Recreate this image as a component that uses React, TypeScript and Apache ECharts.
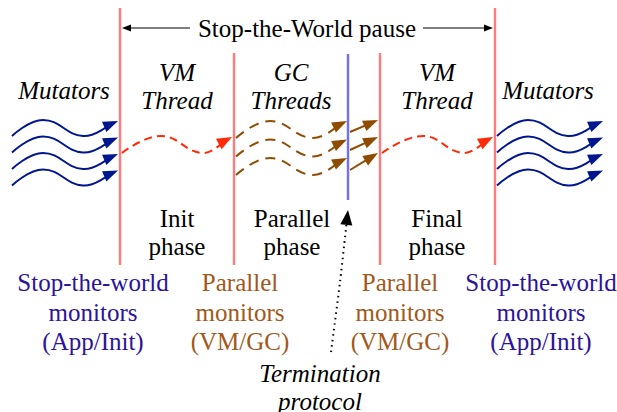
import React, { useEffect, useRef } from "react";
import * as echarts from "echarts";

// ---------- diagram data (diagram units = one pixel of the 617x412 view) ----------
const VIEW_W = 617;
const VIEW_H = 412;

// phase boundaries
const boundaryX = [120, 234, 380, 495];
const boundaryTop = [8, 53, 53, 8];
const boundaryBottom = [265, 265, 265, 265];
const terminationLine = [[348, 54], [348, 200]];

// wave template: start, crest, trough, arrow tip (relative to origin)
const mutatorWaveShape = [[0, 0], [31, -16], [71, 0], [106, -15]];
const mutatorLeftOrigins = [[12, 136], [12, 152.5], [12, 169], [12, 185.5]];
const mutatorRightOrigins = [[497, 136], [497, 152.5], [497, 169], [497, 185.5]];
const vmWaves = [
  [[122, 153], [161, 136], [202, 153], [232, 137]],
  [[382, 153], [423, 136], [463, 153], [493, 137]],
];
const gcWaveShape = [[0, 0], [34, -17], [76, 0], [111, -17]];
const gcOrigins = [[236, 138], [236, 156.5], [236, 175]];
const gcHandoffArrows = [
  [[350, 132], [378, 120]],
  [[350, 150], [378, 137]],
  [[350, 170], [378, 153]],
];
const pauseArrows = [
  [[190, 28], [122, 28]],
  [[423, 28], [493, 28]],
];
const terminationArrow = [[[331, 352], [340, 282], [348, 210]]];

// labels (centre of each label block)
const pauseTitle = ["Stop-the-World pause"];
const pauseTitlePos = [[307, 28]];
const threadLabels = ["Mutators", "VM\nThread", "GC\nThreads", "VM\nThread", "Mutators"];
const threadLabelPos = [[64, 90], [177, 86], [291, 86], [437, 86], [548, 90]];
const phaseLabels = ["Init\nphase", "Parallel\nphase", "Final\nphase"];
const phaseLabelPos = [[177, 232], [292, 232], [437, 232]];
const monitorLabels = [
  "Stop-the-world\nmonitors\n(App/Init)",
  "Parallel\nmonitors\n(VM/GC)",
  "Parallel\nmonitors\n(VM/GC)",
  "Stop-the-world\nmonitors\n(App/Init)",
];
const monitorLabelPos = [[93, 312], [240, 312], [400, 312], [541, 312]];
const monitorKinds = ["stw", "par", "par", "stw"];
const terminationLabel = ["Termination\nprotocol"];
const terminationLabelPos = [[320, 387]];

// ---------- styles ----------
const FONT = "Liberation Serif";
const FONT_SIZE = 25;
const C_PINK = "#ff7b7b";
const C_BLUE_LINE = "#6e6eff";
const C_NAVY = "#00168e";
const C_RED = "#ff2a08";
const C_BROWN = "#8f4c00";
const C_STW_TEXT = "#2b1499";
const C_PAR_TEXT = "#a1581a";

const place = (shape: number[][], origin: number[]) =>
  shape.map((p) => [p[0] + origin[0], p[1] + origin[1]]);

type ArrowStyle = {
  color: string;
  width: number;
  dash?: number[];
  head: number;
  half: number;
  smooth: number;
};

function arrowElement(api: any, pts: number[][], st: ArrowStyle) {
  const px = pts.map((p) => api.coord(p));
  const tip = px[px.length - 1];
  const prev = px[px.length - 2];
  const dx = tip[0] - prev[0];
  const dy = tip[1] - prev[1];
  const len = Math.hypot(dx, dy) || 1;
  const ux = dx / len;
  const uy = dy / len;
  const bx = tip[0] - ux * st.head;
  const by = tip[1] - uy * st.head;
  const end = [tip[0] - ux * st.head * 0.6, tip[1] - uy * st.head * 0.6];
  const linePts = px.slice(0, -1).concat([end]);
  return {
    type: "group",
    children: [
      {
        type: "polyline",
        shape: { points: linePts, smooth: st.smooth },
        style: {
          stroke: st.color,
          lineWidth: st.width,
          lineDash: st.dash || null,
          fill: null,
        },
      },
      {
        type: "polygon",
        shape: {
          points: [
            tip,
            [bx - uy * st.half, by + ux * st.half],
            [bx + uy * st.half, by - ux * st.half],
          ],
        },
        style: { fill: st.color },
      },
    ],
  };
}

function arrowSeries(name: string, list: number[][][], st: ArrowStyle) {
  return {
    type: "custom",
    name,
    silent: true,
    clip: false,
    data: list.map((w, i) => [w[0][0], w[0][1], i]),
    renderItem: (params: any, api: any) => arrowElement(api, list[params.dataIndex], st),
  };
}

export default function App() {
  const ref = useRef<HTMLDivElement>(null);

  useEffect(() => {
    if (!ref.current) return;
    const chart = echarts.init(ref.current, null, { renderer: "svg" });

    // text measurement so each line can be centred without relying on alignment props
    const ctx = document.createElement("canvas").getContext("2d") as CanvasRenderingContext2D;
    const measure = (s: string, italic: boolean) => {
      ctx.font = (italic ? "italic " : "") + FONT_SIZE + 'px "' + FONT + '"';
      return ctx.measureText(s).width;
    };

    const boundarySeries = {
      type: "custom",
      name: "boundaries",
      silent: true,
      clip: false,
      data: boundaryX.map((x, i) => [x, boundaryTop[i], boundaryBottom[i]]),
      renderItem: (params: any, api: any) => {
        const i = params.dataIndex;
        const a = api.coord([boundaryX[i], boundaryTop[i]]);
        const b = api.coord([boundaryX[i], boundaryBottom[i]]);
        return {
          type: "line",
          shape: { x1: a[0], y1: a[1], x2: b[0], y2: b[1] },
          style: { stroke: C_PINK, lineWidth: 2.4 },
        };
      },
    };

    const terminationSeries = {
      type: "custom",
      name: "termination line",
      silent: true,
      clip: false,
      data: [[terminationLine[0][0], terminationLine[0][1], terminationLine[1][1]]],
      renderItem: (params: any, api: any) => {
        const a = api.coord(terminationLine[0]);
        const b = api.coord(terminationLine[1]);
        return {
          type: "line",
          shape: { x1: a[0], y1: a[1], x2: b[0], y2: b[1] },
          style: { stroke: C_BLUE_LINE, lineWidth: 2.4 },
        };
      },
    };

    const mutatorWaves = mutatorLeftOrigins
      .map((o) => place(mutatorWaveShape, o))
      .concat(mutatorRightOrigins.map((o) => place(mutatorWaveShape, o)));
    const gcWaves = gcOrigins.map((o) => place(gcWaveShape, o));

    // labels: diagram units map 1:1 onto the full-size grid
    const labelGroups: [string[], number[][], (i: number) => string, boolean, number][] = [
      [pauseTitle, pauseTitlePos, () => "#000000", false, 28],
      [threadLabels, threadLabelPos, () => "#000000", true, 28],
      [phaseLabels, phaseLabelPos, () => "#000000", false, 28],
      [monitorLabels, monitorLabelPos, (i) => (monitorKinds[i] === "stw" ? C_STW_TEXT : C_PAR_TEXT), false, 29.5],
      [terminationLabel, terminationLabelPos, () => "#000000", true, 28],
    ];
    const graphics: any[] = [];
    labelGroups.forEach(([texts, pos, colorOf, italic, lh]) => {
      texts.forEach((t, i) => {
        const lines = t.split("\n");
        lines.forEach((line, k) => {
          const cy = pos[i][1] + (k - (lines.length - 1) / 2) * lh;
          const w = measure(line, italic);
          const style: any = {
            text: line,
            fontFamily: FONT,
            fontSize: FONT_SIZE,
            fill: colorOf(i),
          };
          if (italic) style.fontStyle = "italic";
          graphics.push({
            type: "text",
            x: pos[i][0] - w / 2,
            y: cy - FONT_SIZE / 2,
            style,
          });
        });
      });
    });

    chart.setOption({
      animation: false,
      backgroundColor: "#ffffff",
      grid: { left: 0, right: 0, top: 0, bottom: 0 },
      xAxis: { type: "value", min: 0, max: VIEW_W, show: false },
      yAxis: { type: "value", min: 0, max: VIEW_H, inverse: true, show: false },
      graphic: graphics,
      series: [
        boundarySeries,
        terminationSeries,
        arrowSeries("mutators", mutatorWaves, {
          color: C_NAVY, width: 2, head: 15, half: 5.5, smooth: 0.45,
        }),
        arrowSeries("vm thread", vmWaves, {
          color: C_RED, width: 2, dash: [8, 5], head: 15, half: 6, smooth: 0.45,
        }),
        arrowSeries("gc threads", gcWaves, {
          color: C_BROWN, width: 2, dash: [10, 7], head: 15, half: 5.5, smooth: 0.45,
        }),
        arrowSeries("gc handoff", gcHandoffArrows, {
          color: C_BROWN, width: 2, head: 15, half: 5.5, smooth: 0,
        }),
        arrowSeries("pause span", pauseArrows, {
          color: "#000000", width: 1.2, head: 9, half: 3.5, smooth: 0,
        }),
        arrowSeries("termination", terminationArrow, {
          color: "#000000", width: 2, dash: [1.5, 4], head: 15, half: 6, smooth: 0.3,
        }),
      ],
    });

    return () => chart.dispose();
  }, []);

  return (
    <div
      ref={ref}
      style={{
        position: "fixed",
        left: 0,
        top: 0,
        width: VIEW_W,
        height: VIEW_H,
        background: "#ffffff",
      }}
    />
  );
}
